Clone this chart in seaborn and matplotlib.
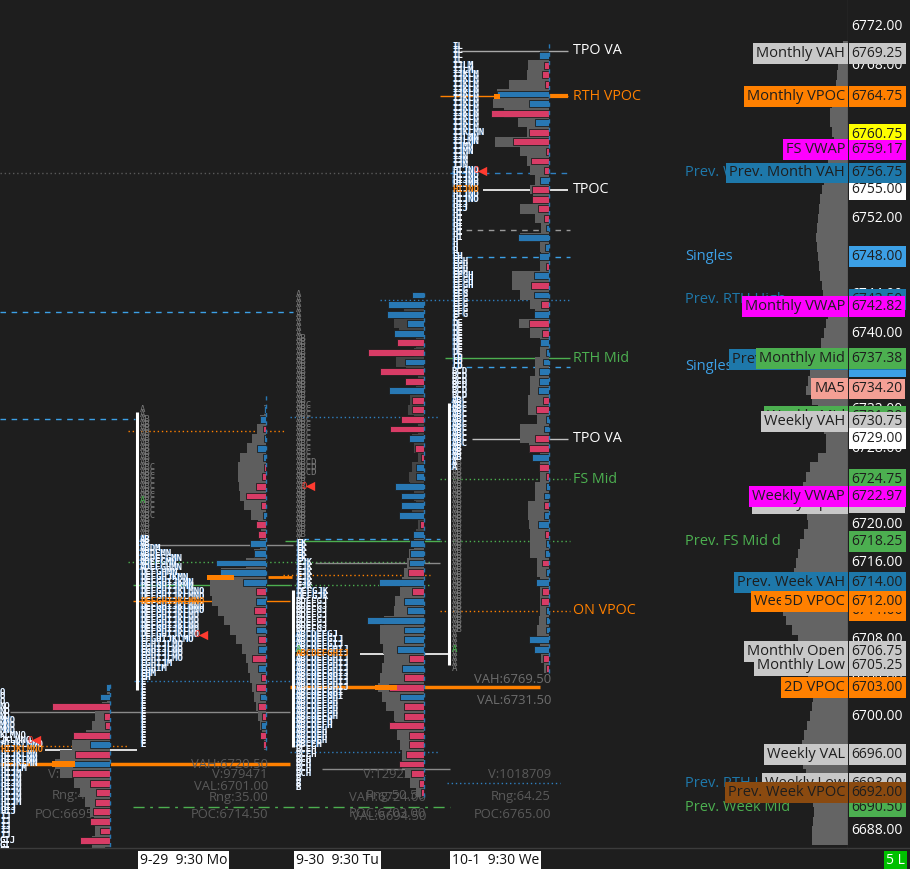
import numpy as np
import matplotlib
matplotlib.use("Agg")
import matplotlib.pyplot as plt
import seaborn as sns

# ---------------- data ----------------
# volume profile width and delta per 1-point price level, lowest price first
fri_lo = 6686
fri_vol = [18, 18, 15, 16, 20, 25, 30, 36, 50, 55, 50, 38, 24, 18, 15, 8, 3, 0]
fri_delta = [5, -30, -10, -20, -17, -15, -14, -20, -38, 37, -35, 20, -37, -5, -6, -58, 10, 4]

mon_lo = 6697
mon_vol = [2, 4, 6, 8, 10, 12, 14, 16, 18, 20, 24, 30, 36, 42, 48, 54, 56, 56, 45, 20,
           12, 6, 5, 8, 15, 22, 26, 27, 28, 28, 26, 19, 14, 9, 6, 2, 0]
mon_delta = [-3, -6, 5, -4, -8, 6, -10, -5, 8, -14, 8, -8, 10, -10, -12, 10, -10, 23, 46, 50,
             12, 16, -8, -10, 3, -5, -20, -10, -4, -2, 3, 9, 2, -3, 6, 2, 0]

tue_lo = 6692
tue_vol = [8, 14, 19, 22, 22, 24, 27, 29, 30, 38, 42, 46, 44, 42, 40, 41, 44, 44, 40, 30,
           29, 24, 22, 20, 17, 15, 10, 8, 6, 12, 8, 10, 14, 15, 12, 6, 10, 12, 6, 10,
           16, 14, 8, 6, 18, 28, 10, 8, 25, 30, 20, 0, 0]
tue_delta = [-3, -5, -13, -25, -18, -15, -15, -35, -20, -20, 24, -35, -20, 22, -15, 27, 20, 20, 57, 17,
             20, -12, 45, -16, 15, 14, 14, 11, -4, 25, 23, 23, 29, 8, 8, -3, -9, 15, -34, -23,
             -12, -12, 35, -19, -44, 19, -56, -27, 30, 17, 37, 36, 12]

wed_lo = 6705
wed_vol = [5, 8, 9, 12, 12, 10, 9, 9, 9, 9, 12, 12, 19, 19, 19, 20, 21, 21, 14, 14,
           9, 9, 9, 20, 29, 29, 12, 21, 21, 19, 19, 14, 14, 9, 9, 19, 30, 14, 19, 29,
           37, 37, 9, 8, 9, 29, 8, 14, 29, 16, 19, 14, 19, 22, 29, 54, 22, 31, 45, 56,
           52, 40, 22, 21, 9, 0]
wed_delta = [-3, -6, 15, 20, 3, 3, 3, -8, -7, 13, 3, -7, 4, 3, -4, 11, 5, -5, 5, 3,
             -3, -10, 17, -20, -14, 5, 3, -13, -6, 11, 10, 10, 6, 3, 9, -7, -20, 15, -8, 15,
             -18, 15, -3, 10, 4, 31, 3, -5, -11, -17, -17, 9, -5, -18, -3, -36, -20, 14, -58, 20,
             52, -4, -7, -5, 10, 0]

comp_lo = 6687
comp_vol = [36, 36, 35, 34, 35, 36, 39, 42, 45, 48, 46, 44, 41, 38, 36, 35, 37, 40, 43, 46,
            48, 50, 56, 62, 65, 68, 62, 55, 54, 52, 50, 48, 44, 40, 41, 42, 44, 45, 42, 38,
            30, 22, 22, 24, 26, 30, 36, 42, 40, 38, 34, 30, 27, 24, 22, 20, 22, 25, 26, 28,
            29, 30, 31, 32, 31, 30, 29, 28, 26, 24, 22, 20, 17, 14, 16, 18, 18, 16, 14, 12,
            11, 10, 8, 5]

# TPO periods: letter -> (low, high)
fri_on = {}
fri_rth = {"G": (6686, 6687), "H": (6690, 6697), "I": (6686, 6697), "J": (6687, 6697.5),
           "K": (6695, 6698), "L": (6694.5, 6698), "M": (6691, 6699.5), "N": (6695, 6701),
           "O": (6696.5, 6702.5)}
mon_on = {"A": (6718.5, 6732), "B": (6718.5, 6731), "C": (6721, 6726)}
mon_rth = {"A": (6715.5, 6718.5), "B": (6716.5, 6718.5), "D": (6708.5, 6717.5), "E": (6697, 6717),
           "F": (6708, 6716.5), "G": (6705, 6716.5), "H": (6704, 6715.5), "I": (6705, 6714),
           "J": (6705.5, 6714.5), "K": (6708, 6714.5), "L": (6706, 6713), "M": (6704.5, 6717.5),
           "N": (6711, 6717), "O": (6706, 6713)}
tue_on = {"A": (6692.5, 6744), "B": (6719, 6739.5), "C": (6725.5, 6732.5), "D": (6725.5, 6726.5)}
tue_rth = {"A": (6697, 6708.5), "B": (6692.5, 6712), "C": (6694, 6708.5), "D": (6697.5, 6713),
           "E": (6696, 6718), "F": (6699, 6713), "G": (6700, 6713), "H": (6694, 6707),
           "I": (6702, 6708), "J": (6703, 6716), "K": (6712.5, 6718)}
wed_on = {"A": (6705, 6733), "B": (6709, 6729)}
wed_rth = {"A": (6726, 6733), "B": (6727, 6736), "C": (6728.5, 6737.5), "D": (6733.5, 6741),
           "E": (6738, 6748), "F": (6742, 6746), "G": (6742, 6747.5), "H": (6745, 6757),
           "I": (6750, 6770), "J": (6753, 6768), "K": (6761, 6767), "L": (6760, 6770),
           "M": (6759, 6768), "N": (6754, 6761), "O": (6754, 6757)}

tpoc_price = [6696.5, 6712.0, 6706.5, 6755.0]
poc_price = [6695.0, 6714.5, 6703.0, 6764.75]
close_price = [6697.5, 6708.5, 6724.0, 6757.0]
close_kind = ["rth", "rth", "on", "rth"]
open_price = [None, 6722.5, 6707.0, 6707.0]
ib_range = [None, (6702.7, 6731.8), (6696.8, 6713.2), (6705.3, 6732.7)]
dim_above = [None, None, 6718, None]

stats = [
    [("V:1131525", 6693.85), ("Rng:41.75", 6691.7), ("POC:6695.00", 6689.7)],
    [("VAH:6720.50", 6694.9), ("V:979471", 6693.85), ("VAL:6701.00", 6692.6),
     ("Rng:35.00", 6691.5), ("POC:6714.50", 6689.7)],
    [("V:1292254", 6693.85), ("VAH:6724.00", 6691.5), ("Rng:50.50", 6691.75),
     ("POC:6703.00", 6689.8), ("VAL:6694.50", 6689.5)],
    [("VAH:6769.50", 6703.8), ("VAL:6731.50", 6701.6), ("V:1018709", 6693.85),
     ("Rng:64.25", 6691.65), ("POC:6765.00", 6689.7)],
]
time_labels = [None, "9-29  9:30 Mo", "9-30  9:30 Tu", "10-1  9:30 We"]

# horizontal reference levels: price, from, to
level_price = [6769.5, 6764.75, 6764.75, 6756.75, 6756.75, 6755.0, 6750.75, 6748.0, 6743.5,
               6742.25, 6737.38, 6736.5, 6731.0, 6731.25, 6729.75, 6729.0, 6724.75, 6718.5,
               6718.25, 6718.25, 6717.9, 6716.1, 6716.0, 6714.75, 6714.5, 6713.7, 6713.7,
               6712.0, 6711.0, 6706.5, 6703.7, 6703.0, 6700.4, 6696.9, 6696.5, 6696.25,
               6695.0, 6694.5, 6693.0, 6690.5]
level_span = [(460, 568), (440, 568), (549, 568), (0, 450), (450, 570), (483, 568), (455, 570),
              (455, 570), (380, 570), (0, 293), (445, 570), (455, 570), (0, 135), (290, 440),
              (128, 285), (472, 568), (440, 570), (303, 440), (285, 440), (440, 570), (154, 293),
              (128, 430), (315, 440), (283, 430), (268, 292), (133, 290), (290, 430), (133, 290),
              (440, 570), (360, 450), (134, 290), (290, 540), (10, 290), (0, 127), (45, 137),
              (290, 440), (0, 290), (322, 450), (447, 560), (133, 450)]

side_notes = [("TPO VA", 6769.5, "white"), ("RTH VPOC", 6764.75, "#ff8000"), ("TPOC", 6755.0, "white"),
              ("RTH Mid", 6737.38, "#4caf50"), ("TPO VA", 6729.0, "white"),
              ("FS Mid", 6724.75, "#4caf50"), ("ON VPOC", 6711.0, "#ff8000")]

tick_prices = list(range(6688, 6773, 4))

tag_name = ["Monthly VAH", "Monthly VPOC", "", "FS VWAP", "", "Prev. Week High", "Prev. Month VAH",
            "Singles", "Prev. RTH High", "Monthly VWAP", "Singles", "Prev. Month Mid", "Monthly Mid",
            "MA5", "Weekly Mid", "Weekly VAH", "", "", "Weekly Open", "Weekly VWAP", "Prev. FS Mid d",
            "Prev. Week VAH", "", "Weekly VPOC", "5D VPOC", "Monthly Open", "Monthly Low", "2D VPOC",
            "Weekly VAL", "Prev. RTH Low", "Weekly Low", "Prev. Week Mid", "Prev. Week VPOC"]
tag_value = [6769.25, 6764.75, 6760.75, 6759.17, 6755.00, 6756.75, 6756.75,
             6748.00, 6743.50, 6742.82, 6736.50, 6737.25, 6737.38,
             6734.20, 6731.30, 6730.75, 6729.00, 6724.75, 6722.25, 6722.97, 6718.25,
             6714.00, 6711.00, 6712.00, 6712.00, 6706.75, 6705.25, 6703.00,
             6696.00, 6693.00, 6693.00, 6690.50, 6692.00]
tag_color = ["#c8c8c8", "#ff8000", "#ffff00", "#ff00ff", "#ffffff", "#1e78aa", "#1e78aa",
             "#3ca0e6", "#1e78aa", "#ff00ff", "#3ca0e6", "#1e78aa", "#4caf50",
             "#f4a095", "#4caf50", "#c8c8c8", "#ffffff", "#4caf50", "#c8c8c8", "#ff00ff", "#4caf50",
             "#1e78aa", "#ff8000", "#ff8000", "#ff8000", "#c8c8c8", "#c8c8c8", "#ff8000",
             "#c8c8c8", "#1e78aa", "#c8c8c8", "#4caf50", "#8a4a10"]
tag_plain = ["Prev. Week High", "Singles", "Prev. RTH High", "Prev. FS Mid d",
             "Prev. RTH Low", "Prev. Week Mid"]

# ---------------- layout / style ----------------
BG = "#1e1e1e"
GRAY, DIM = "#5e5e5e", "#444444"
BLUE, RED = "#2878b4", "#d83c66"
ORANGE = "#ff8000"
anchor_x = [0, 140, 296, 452]
edge_x = [110, 266, 424, 549]
marker_w = [23, 27, 22, 6]
line_color = ["#a8a8a8", ORANGE, ORANGE, "#5a5a5a", "#2f7fc0", "white", "#9a9a9a", "#3ca0e6",
              "#2f7fc0", "#3ca0e6", "#4caf50", "#3ca0e6", "#3ca0e6", "#2f7fc0", ORANGE, "#c0c0c0",
              "#4caf50", "#3ca0e6", "#4caf50", "#4caf50", "#8a8a8a", "#4caf50", "#8a8a8a", ORANGE,
              ORANGE, "#4caf50", "#4caf50", ORANGE, ORANGE, "white", "#2f7fc0", ORANGE, "#8a8a8a",
              ORANGE, "white", "#2f7fc0", ORANGE, "#8a8a8a", "#2f7fc0", "#4caf50"]
DOT, DASH, SOL = (0, (1, 2)), (0, (4, 4)), "-"
line_style = [SOL, SOL, SOL, DOT, DASH, SOL, DASH, DASH, DOT, DASH, SOL, DASH, DASH, DOT, DOT, SOL,
              DOT, DASH, SOL, DOT, SOL, DOT, SOL, DOT, SOL, SOL, DOT, SOL, DOT, SOL, DOT, SOL, SOL,
              DOT, SOL, DOT, SOL, SOL, DOT, (0, (8, 4, 2, 4))]
line_width = [1, 1, 3, 1, 1, 1.2, 1, 1, 1, 1, 1, 1, 1, 1, 1, 1, 1, 1, 1, 1, 1, 1, 1, 1, 2, 1, 1,
              1, 1, 1.2, 1, 2.5, 1, 1, 1.2, 1, 2.5, 1, 1, 1]

sns.set_theme(style="dark", rc={"axes.facecolor": BG, "figure.facecolor": BG,
                                "axes.edgecolor": "#3c3c3c", "axes.linewidth": 1.0})
plt.rcParams["font.family"] = ["Open Sans", "DejaVu Sans"]
MONO = "DejaVu Sans Mono"
TPO_FS = 6.5
CW = 0.602 * TPO_FS * 100 / 72

fig = plt.figure(figsize=(9.10, 8.69), dpi=100)
ax = fig.add_axes([0, 21 / 869, 848 / 910, 848 / 869])
ax2 = fig.add_axes([848 / 910, 21 / 869, 62 / 910, 848 / 869], sharey=ax)
ax.set_xlim(0, 848)
ax.set_ylim(6686.22, 6774.82)
ax2.set_xlim(0, 62)
for a in (ax, ax2):
    a.set_xticks([])
    a.set_yticks([])
    a.grid(False)
    for sp in a.spines.values():
        sp.set_visible(False)
    a.spines["bottom"].set_visible(True)
ax.spines["right"].set_visible(True)


def tpo_rows(periods, lo=6680, hi=6775):
    rows = []
    for p in np.arange(lo, hi + 0.01, 0.5):
        s = "".join(k for k in sorted(periods) if periods[k][0] <= p <= periods[k][1])
        if s:
            rows.append((p, s))
    return rows


# reference levels
for p, (a, b), c, ls, lw in zip(level_price, level_span, line_color, line_style, line_width):
    ax.hlines(p, a, b, colors=c, linestyles=ls, lw=lw, zorder=1)

# composite profile on the right
cp = comp_lo + np.arange(len(comp_vol))
cv = np.array(comp_vol)
ax.barh(cp, cv, left=848 - cv, height=1.0, color="#646464", linewidth=0, zorder=1.2)

sessions = [(fri_lo, fri_vol, fri_delta, fri_on, fri_rth),
            (mon_lo, mon_vol, mon_delta, mon_on, mon_rth),
            (tue_lo, tue_vol, tue_delta, tue_on, tue_rth),
            (wed_lo, wed_vol, wed_delta, wed_on, wed_rth)]

for i, (lo, vol, delta, on, rth) in enumerate(sessions):
    x0, x1 = anchor_x[i], edge_x[i]
    prices = lo + np.arange(len(vol))
    v = np.array(vol)
    d = np.array(delta)
    gcol = [DIM if (dim_above[i] is not None and p > dim_above[i]) else GRAY for p in prices]
    ax.barh(prices, v, left=x1 - v, height=1.0, color=gcol, linewidth=0, zorder=2)
    ax.barh(prices, np.abs(d), left=x1 - np.abs(d), height=0.72,
            color=[BLUE if x > 0 else RED for x in d], edgecolor=BG, linewidth=0.6, zorder=3)
    ax.vlines(x1, prices.min() - 0.5, prices.max() + 0.5, colors="#2878b4",
              linestyles=(0, (3, 3)), lw=1, zorder=3.5)
    # POC marker
    pv = v[int(round(poc_price[i])) - lo]
    ax.barh([poc_price[i]], [marker_w[i]], left=x1 - pv - 3, height=0.55,
            color=ORANGE, linewidth=0, zorder=3.6)
    # TPO letters
    for p, s in tpo_rows(on):
        ax.text(x0, p, s, color="#7a7a7a", fontsize=TPO_FS, family=MONO,
                ha="left", va="center", zorder=4, clip_on=True)
    for p, s in tpo_rows(rth):
        if p == tpoc_price[i]:
            ax.text(x0, p, s, color="#ff8c1a", fontsize=TPO_FS, family=MONO, weight="bold",
                    ha="left", va="center", zorder=4.2, clip_on=True)
        else:
            ax.text(x0 - 0.9, p, s, color="#3d8fe0", fontsize=TPO_FS, family=MONO,
                    ha="left", va="center", zorder=4, clip_on=True)
            ax.text(x0, p, s, color="#f4f8ff", fontsize=TPO_FS, family=MONO, weight="bold",
                    ha="left", va="center", zorder=4.1, clip_on=True)
    # close marker
    rows = dict(tpo_rows(on if close_kind[i] == "on" else rth))
    xc = x0 + (len(rows[close_price[i]]) - 1) * CW
    ax.text(xc, close_price[i], "O", color="#ff3b30", fontsize=TPO_FS, family=MONO,
            ha="left", va="center", zorder=4.5)
    sns.scatterplot(x=[xc + CW + 3], y=[close_price[i]], marker="<", color="#ff3b30",
                    s=45, linewidth=0, ax=ax, zorder=4.5, legend=False)
    if open_price[i] is not None:
        ax.text(x0, open_price[i], "A", color="#3cb043", fontsize=TPO_FS, family=MONO,
                ha="left", va="center", zorder=4.6)
    if ib_range[i] is not None:
        ax.vlines(x0 - 3, ib_range[i][0], ib_range[i][1], colors="white", lw=2.2, zorder=4)
    # session stats
    for t, p in stats[i]:
        c = "#6e6e6e" if p > 6700 else "#5a5a5a"
        ax.text(x1 + 2, p, t, ha="right", va="center", color=c, fontsize=9.4, zorder=1.5)
    if time_labels[i]:
        ax.text(x0, -0.0145, time_labels[i], transform=ax.get_xaxis_transform(), ha="left",
                va="center", fontsize=10, color="#111111", clip_on=False,
                bbox=dict(boxstyle="square,pad=0.15", fc="white", ec="none"))

for t, p, c in side_notes:
    ax.text(573, p, t, color=c, fontsize=10.3, ha="left", va="center", zorder=5)

# price scale
for p in tick_prices:
    ax2.text(3.5, p, f"{p:.2f}", color="white", fontsize=10, ha="left", va="center", zorder=2)

z = 6
for name, val, col in zip(tag_name, tag_value, tag_color):
    ax2.text(3.5, val, f"{val:.2f}", color="#1e1e1e", fontsize=10, ha="left", va="center",
             zorder=z, bbox=dict(boxstyle="square,pad=0.2", fc=col, ec="none"))
    if name in tag_plain:
        ax.text(685, val, name, color=col, fontsize=10.5, ha="left", va="center", zorder=z)
    elif name:
        ax.text(845, val, name, color="#1e1e1e", fontsize=10.5, ha="right", va="center", zorder=z,
                bbox=dict(boxstyle="square,pad=0.2", fc=col, ec="none"))
    z += 0.1

ax2.text(38, -0.0145, "5 L", transform=ax2.get_xaxis_transform(), ha="left", va="center",
         fontsize=10, color="white", clip_on=False,
         bbox=dict(boxstyle="square,pad=0.15", fc="#00c000", ec="none"))

fig.savefig("out.png", dpi=100, facecolor=BG)
